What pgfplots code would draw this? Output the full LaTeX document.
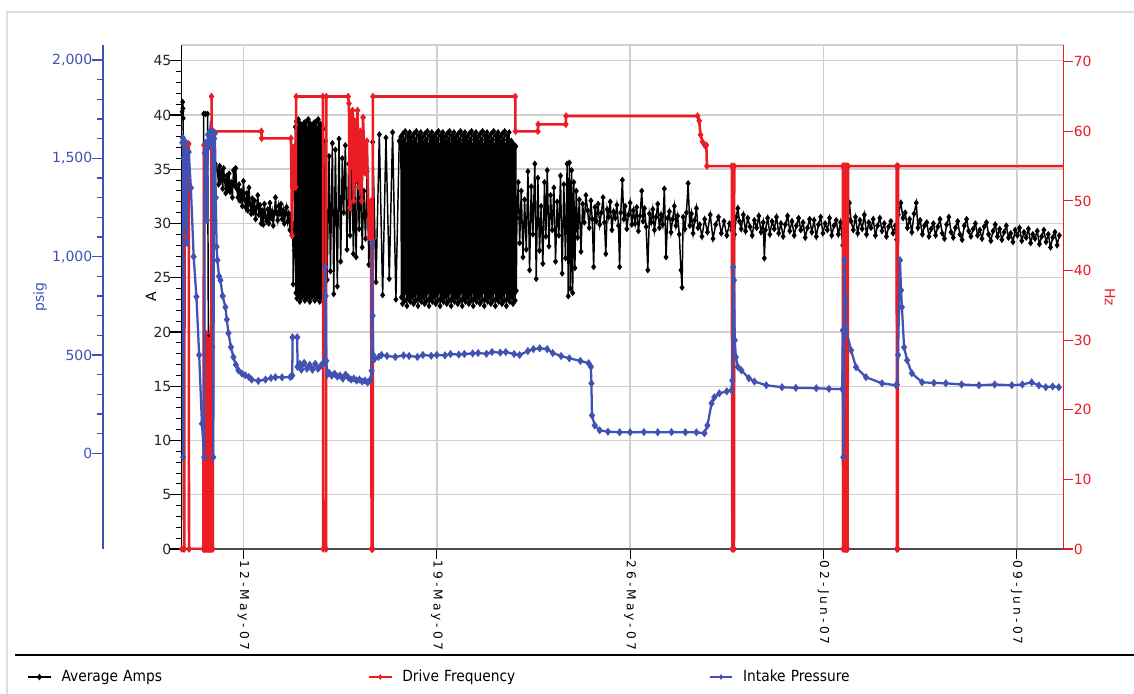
\documentclass[border=0pt]{standalone}
\usepackage{fontspec}
\setmainfont{DejaVu Sans}
\newfontfamily\legfont{DejaVu Sans Condensed}
\newfontfamily\xlabfont[LetterSpace=25]{DejaVu Sans}
\usepackage{pgfplots}
\pgfplotsset{compat=1.18}
\definecolor{cblue}{RGB}{66,82,178}
\definecolor{cred}{RGB}{236,28,36}
\definecolor{cgrid}{RGB}{208,208,208}
\definecolor{cframe}{RGB}{222,222,222}
\begin{document}
\begin{tikzpicture}
\useasboundingbox (0,0) rectangle (850.5pt,519.75pt);
\fill[white] (0,0) rectangle (850.5pt,519.75pt);
\draw[cframe, line width=1.5pt] (5.25pt,-5pt) -- (5.25pt,510.75pt) -- (860pt,510.75pt);
\draw[black, line width=2.2pt] (11.25pt,28.5pt) -- (850.5pt,28.5pt);

% ---------------- main axis: Average Amps ----------------
\begin{axis}[
  at={(136.3pt,108pt)}, anchor=south west, scale only axis,
  width=661.2pt, height=378pt,
  xmin=9.766, xmax=41.685, ymin=0, ymax=46.45,
  axis x line*=bottom, axis y line*=left,
  x axis line style={-, line width=1.6pt, color=black!70},
  y axis line style={-, line width=0.9pt, color=black},
  xtick={12,19,26,33,40},
  xticklabels={12-May-07,19-May-07,26-May-07,02-Jun-07,09-Jun-07},
  xticklabel style={rotate=-90, anchor=west, font=\xlabfont\fontsize{9.2}{10}\selectfont, inner sep=4pt},
  xtick style={black, line width=0.8pt, /pgfplots/major tick length=7.5pt},
  ytick={0,5,...,45}, minor y tick num=4,
  ytick style={black, line width=0.8pt, /pgfplots/major tick length=9pt, /pgfplots/minor tick length=4.5pt},
  tick align=outside,
  yticklabel style={font=\fontsize{10.5}{12}\selectfont, text=black!85},
  /pgf/number format/assume math mode=true,
  xmajorgrids, ymajorgrids,
  grid style={cgrid, line width=1.1pt},
  every axis y label/.style={at={(axis description cs:0,0.5)}, xshift=-23pt, rotate=90, anchor=center, font=\fontsize{10.5}{12}\selectfont},
  ylabel={A},
  legend columns=3,
  legend style={at={(axis description cs:0,0)}, anchor=west, xshift=-116pt, yshift=-96pt,
    draw=none, fill=none, inner sep=0pt, font=\legfont\fontsize{11.5}{12}\selectfont,
    nodes={inner sep=0pt, text width=230pt, align=left},
    /tikz/every odd column/.append style={column sep=7.5pt}},
  legend cell align=left,
]
\draw[cgrid, line width=1.1pt] (rel axis cs:0,1) -- (rel axis cs:1,1);
\addplot[black, line width=1.1pt, mark=diamond*, mark size=1.6pt] coordinates {
(9.78,40.3) (9.80,41.2) (9.81,40.6) (9.82,39.7) (9.83,0)
(10.55,0) (10.56,40.1) (10.62,40.1) (10.70,40.1) (10.73,19.8) (10.75,18.6) (10.77,19.7) (10.80,19.2) (10.98,35.5)
(11.06,34.9) (11.10,33.6) (11.14,35.3) (11.17,33.9) (11.21,34.8) (11.25,33.2) (11.28,35.1) (11.32,34.0) (11.36,32.8) (11.40,34.4)
(11.44,33.1) (11.48,34.6) (11.52,32.9) (11.56,33.8) (11.60,32.4) (11.64,34.9) (11.68,33.5) (11.72,35.1) (11.76,33.2) (11.80,32.4)
(11.84,33.6) (11.88,32.1) (11.92,33.0) (11.96,31.6) (12.00,33.9) (12.04,32.2) (12.08,31.5) (12.12,32.8) (12.16,31.2) (12.20,33.3)
(12.24,31.8) (12.28,30.9) (12.32,32.3) (12.36,31.0) (12.40,32.1) (12.44,30.4) (12.48,31.5) (12.52,32.6) (12.56,30.8) (12.60,31.7)
(12.64,30.0) (12.68,31.2) (12.72,29.9) (12.76,31.8) (12.80,30.6) (12.84,30.2) (12.88,31.3) (12.92,30.0) (12.96,31.9) (13.00,30.5)
(13.04,31.1) (13.08,29.8) (13.12,30.9) (13.16,32.4) (13.20,31.0) (13.24,30.3) (13.28,31.6) (13.32,30.9) (13.36,31.8) (13.40,30.4)
(13.44,31.2) (13.48,30.0) (13.52,30.9) (13.56,31.5) (13.60,30.2) (13.64,30.9) (13.68,29.4) (13.72,30.8) (13.76,29.0) (13.79,30.0)
(13.80,24.4) (13.84,27.5)
(13.880,38.9) (13.898,23.6) (13.916,39.4) (13.934,23.1) (13.952,38.6) (13.970,23.9) (13.988,39.6) (14.006,23.3) (14.024,38.8) (14.042,22.8)
(14.060,39.2) (14.078,23.7) (14.096,38.5) (14.114,23.2) (14.132,39.0) (14.150,24.0) (14.168,38.7) (14.186,23.4) (14.204,39.3) (14.222,22.9)
(14.240,38.9) (14.258,23.6) (14.276,39.4) (14.294,23.1) (14.312,38.6) (14.330,23.9) (14.348,39.6) (14.366,23.3) (14.384,38.8) (14.402,22.8)
(14.420,39.2) (14.438,23.7) (14.456,38.5) (14.474,23.2) (14.492,39.0) (14.510,24.0) (14.528,38.7) (14.546,23.4) (14.564,39.3) (14.582,22.9)
(14.600,38.9) (14.618,23.6) (14.636,39.4) (14.654,23.1) (14.672,38.6) (14.690,23.9) (14.708,39.6) (14.726,23.3) (14.744,38.8) (14.762,22.8)
(14.780,39.2) (14.798,23.7) (14.816,38.5) (14.834,23.2) (14.852,39.0) (14.870,24.0) (14.888,38.7)
(14.93,26.0) (14.97,37.6) (15.03,24.8) (15.10,36.2) (15.15,25.6) (15.22,37.4) (15.27,23.5) (15.33,36.8) (15.40,24.2) (15.46,37.8)
(15.52,26.5) (15.58,36.0) (15.63,31.0) (15.69,37.2) (15.75,27.6) (15.81,35.5) (15.86,28.9) (15.92,36.4) (15.98,27.2) (16.03,33.8)
(16.08,26.9) (16.14,35.1) (16.19,29.5) (16.25,34.2) (16.30,27.8) (16.36,33.0) (16.42,28.6) (16.48,34.8) (16.54,26.2) (16.60,31.0)
(16.64,30.5) (16.65,0) (16.67,0)
(16.68,37.5) (16.80,24.6) (16.92,38.2) (17.04,23.4) (17.16,37.9) (17.28,24.9) (17.40,38.4) (17.52,23.0) (17.64,37.6)
(17.70,38.0) (17.72,23.2) (17.74,37.4) (17.76,22.6) (17.78,38.3) (17.80,23.5) (17.82,37.7) (17.84,22.9) (17.86,38.5) (17.88,23.8)
(17.90,37.2) (17.92,22.4) (17.94,38.1) (17.96,23.1) (17.98,37.8) (18.00,23.6) (18.02,38.4) (18.04,22.8) (18.06,37.5) (18.08,23.3)
(18.10,38.0) (18.12,23.2) (18.14,37.4) (18.16,22.6) (18.18,38.3) (18.20,23.5) (18.22,37.7) (18.24,22.9) (18.26,38.5) (18.28,23.8)
(18.30,37.2) (18.32,22.4) (18.34,38.1) (18.36,23.1) (18.38,37.8) (18.40,23.6) (18.42,38.4) (18.44,22.8) (18.46,37.5) (18.48,23.3)
(18.50,38.0) (18.52,23.2) (18.54,37.4) (18.56,22.6) (18.58,38.3) (18.60,23.5) (18.62,37.7) (18.64,22.9) (18.66,38.5) (18.68,23.8)
(18.70,37.2) (18.72,22.4) (18.74,38.1) (18.76,23.1) (18.78,37.8) (18.80,23.6) (18.82,38.4) (18.84,22.8) (18.86,37.5) (18.88,23.3)
(18.90,38.0) (18.92,23.2) (18.94,37.4) (18.96,22.6) (18.98,38.3) (19.00,23.5) (19.02,37.7) (19.04,22.9) (19.06,38.5) (19.08,23.8)
(19.10,37.2) (19.12,22.4) (19.14,38.1) (19.16,23.1) (19.18,37.8) (19.20,23.6) (19.22,38.4) (19.24,22.8) (19.26,37.5) (19.28,23.3)
(19.30,38.0) (19.32,23.2) (19.34,37.4) (19.36,22.6) (19.38,38.3) (19.40,23.5) (19.42,37.7) (19.44,22.9) (19.46,38.5) (19.48,23.8)
(19.50,37.2) (19.52,22.4) (19.54,38.1) (19.56,23.1) (19.58,37.8) (19.60,23.6) (19.62,38.4) (19.64,22.8) (19.66,37.5) (19.68,23.3)
(19.70,38.0) (19.72,23.2) (19.74,37.4) (19.76,22.6) (19.78,38.3) (19.80,23.5) (19.82,37.7) (19.84,22.9) (19.86,38.5) (19.88,23.8)
(19.90,37.2) (19.92,22.4) (19.94,38.1) (19.96,23.1) (19.98,37.8) (20.00,23.6) (20.02,38.4) (20.04,22.8) (20.06,37.5) (20.08,23.3)
(20.10,38.0) (20.12,23.2) (20.14,37.4) (20.16,22.6) (20.18,38.3) (20.20,23.5) (20.22,37.7) (20.24,22.9) (20.26,38.5) (20.28,23.8)
(20.30,37.2) (20.32,22.4) (20.34,38.1) (20.36,23.1) (20.38,37.8) (20.40,23.6) (20.42,38.4) (20.44,22.8) (20.46,37.5) (20.48,23.3)
(20.50,38.0) (20.52,23.2) (20.54,37.4) (20.56,22.6) (20.58,38.3) (20.60,23.5) (20.62,37.7) (20.64,22.9) (20.66,38.5) (20.68,23.8)
(20.70,37.2) (20.72,22.4) (20.74,38.1) (20.76,23.1) (20.78,37.8) (20.80,23.6) (20.82,38.4) (20.84,22.8) (20.86,37.5) (20.88,23.3)
(20.90,38.0) (20.92,23.2) (20.94,37.4) (20.96,22.6) (20.98,38.3) (21.00,23.5) (21.02,37.7) (21.04,22.9) (21.06,38.5) (21.08,23.8)
(21.10,37.2) (21.12,22.4) (21.14,38.1) (21.16,23.1) (21.18,37.8) (21.20,23.6) (21.22,38.4) (21.24,22.8) (21.26,37.5) (21.28,23.3)
(21.30,38.0) (21.32,23.2) (21.34,37.4) (21.36,22.6) (21.38,38.3) (21.40,23.5) (21.42,37.7) (21.44,22.9) (21.46,38.5) (21.48,23.8)
(21.50,37.2) (21.52,22.4) (21.54,38.1) (21.56,23.1) (21.58,37.8) (21.60,23.6) (21.62,38.4) (21.64,22.8) (21.66,37.5) (21.68,23.3)
(21.70,37.6) (21.72,23.2) (21.74,37.4) (21.76,22.6) (21.78,37.3) (21.80,23.5) (21.82,37.2) (21.84,22.9) (21.86,37.1) (21.88,23.8)
(21.90,30.5) (21.95,33.8) (22.00,28.2) (22.06,33.0) (22.12,26.9) (22.18,32.2) (22.24,27.6) (22.30,34.8) (22.36,25.7) (22.42,33.4)
(22.48,29.0) (22.55,35.5) (22.60,24.9) (22.66,34.2) (22.72,27.5) (22.78,31.6) (22.84,26.3) (22.90,33.8) (22.95,28.8) (23.00,34.9)
(23.06,27.9) (23.12,32.6) (23.18,29.4) (23.24,33.3) (23.30,26.5) (23.36,32.0) (23.42,28.9) (23.48,34.4) (23.54,25.4) (23.60,33.6)
(23.66,26.8) (23.72,35.5) (23.76,23.3) (23.80,35.6) (23.84,24.0) (23.88,34.9) (23.92,23.6) (23.96,33.8) (24.00,25.9) (24.05,33.0)
(24.10,28.7) (24.16,32.2) (24.22,27.4) (24.28,31.8) (24.34,30.1) (24.40,32.6)
(24.46,31.2) (24.52,29.6) (24.58,32.1) (24.63,30.4) (24.68,26.0) (24.73,31.5) (24.78,30.2) (24.84,31.8) (24.90,29.9) (24.96,31.0)
(25.02,32.4) (25.07,30.1) (25.12,27.2) (25.17,31.3) (25.22,30.6) (25.28,32.0) (25.34,29.4) (25.40,31.1) (25.46,30.5) (25.52,31.7)
(25.58,29.8) (25.62,26.0) (25.66,31.0) (25.72,34.0) (25.77,30.4) (25.82,31.6) (25.88,29.5) (25.94,30.8) (26.00,31.9) (26.06,29.9)
(26.12,31.2) (26.18,30.0) (26.24,31.5) (26.30,29.3) (26.36,30.7) (26.42,33.0) (26.47,30.2) (26.52,31.4) (26.58,29.7) (26.64,25.7)
(26.70,30.9) (26.76,30.1) (26.82,31.3) (26.88,29.4) (26.94,30.6) (27.00,31.8) (27.06,29.6) (27.12,30.8) (27.18,29.9) (27.24,33.2)
(27.30,26.9) (27.36,30.5) (27.42,31.1) (27.48,29.2) (27.54,30.4) (27.60,31.6) (27.66,29.8) (27.72,30.7) (27.78,29.0) (27.84,25.7)
(27.88,24.1) (27.92,30.6) (27.98,29.5) (28.04,31.0) (28.10,33.7) (28.16,29.8) (28.22,30.9) (28.28,29.1) (28.34,30.3) (28.40,31.4)
(28.46,29.6)
(28.52,29.9) (28.60,28.8) (28.70,30.4) (28.80,29.2) (28.90,30.8) (29.00,28.6) (29.10,29.9) (29.20,30.6) (29.30,29.1) (29.40,30.2)
(29.50,28.9) (29.60,30.0) (29.68,29.4) (29.70,0) (29.76,0) (29.78,29.0) (29.84,30.6) (29.90,31.4) (29.96,30.2) (30.02,29.5)
(30.10,30.8) (30.18,29.3) (30.26,30.5) (30.34,29.7) (30.42,28.9) (30.50,30.3) (30.58,29.6) (30.66,30.7) (30.74,29.2) (30.82,30.1)
(30.86,26.8) (30.90,29.4) (30.98,30.5) (31.06,29.0) (31.14,30.2) (31.22,29.5) (31.30,30.6) (31.38,29.1) (31.46,30.0) (31.54,28.8)
(31.62,29.9) (31.70,30.7) (31.78,29.3) (31.86,30.2) (31.94,28.9) (32.02,29.8) (32.10,30.5) (32.18,29.4) (32.26,30.1) (32.34,28.7)
(32.42,29.6) (32.50,30.4) (32.58,29.2) (32.66,30.3) (32.74,28.8) (32.82,29.9) (32.90,30.6) (32.98,29.1) (33.06,30.0) (33.14,29.4)
(33.22,30.5) (33.30,28.9) (33.38,29.8) (33.46,30.3) (33.54,29.0) (33.62,30.1) (33.70,28.0) (33.71,0) (33.87,0) (33.89,30.4)
(33.94,31.9) (34.00,30.2) (34.08,29.4) (34.16,30.6) (34.24,29.1) (34.32,30.3) (34.40,29.5) (34.48,30.8) (34.56,29.0) (34.64,30.1)
(34.72,29.6) (34.80,30.4) (34.88,28.9) (34.96,29.8) (35.04,30.5) (35.12,29.3) (35.20,30.0) (35.28,28.8) (35.36,29.7) (35.44,30.2)
(35.52,29.1) (35.60,29.8) (35.65,28.5) (35.66,0) (35.69,0) (35.71,30.8) (35.80,31.9) (35.88,30.5) (35.96,31.0) (36.04,29.6)
(36.12,30.4) (36.20,29.2) (36.28,30.9) (36.36,31.9) (36.42,29.6) (36.50,30.3) (36.58,29.0) (36.66,29.8) (36.74,30.1) (36.82,28.8)
(36.90,29.5) (36.98,30.0) (37.06,28.9) (37.14,29.7) (37.22,30.4) (37.30,29.1) (37.38,28.6) (37.46,29.9) (37.54,30.6) (37.62,29.2)
(37.70,28.7) (37.78,29.6) (37.86,30.2) (37.94,29.0) (38.02,28.5) (38.10,29.8) (38.18,30.4) (38.26,29.3) (38.34,28.8) (38.42,29.5)
(38.50,30.0) (38.58,28.9) (38.66,29.4) (38.74,28.6) (38.82,29.7) (38.90,30.1) (38.98,29.0) (39.06,28.4) (39.14,29.3) (39.22,29.9)
(39.30,28.8) (39.38,29.5) (39.46,28.5) (39.54,29.2) (39.62,29.8) (39.70,28.7) (39.78,29.1) (39.86,28.3) (39.94,29.4) (40.02,28.9)
(40.10,29.6) (40.18,28.4) (40.26,29.2) (40.34,28.7) (40.42,29.5) (40.50,28.2) (40.58,29.0) (40.66,28.6) (40.74,29.3) (40.82,28.1)
(40.90,28.8) (40.98,29.4) (41.06,28.3) (41.14,29.0) (41.22,27.8) (41.30,28.7) (41.38,29.2) (41.46,28.0) (41.54,28.9)
};
\addlegendentry{Average Amps}
\addlegendimage{cred, line width=1pt, mark=diamond*, mark size=1.3pt}
\addlegendentry{Drive Frequency}
\addlegendimage{cblue, line width=1pt, mark=diamond*, mark size=1.3pt}
\addlegendentry{Intake Pressure}
\end{axis}

% ---------------- Hz axis: Drive Frequency ----------------
\begin{axis}[
  at={(136.3pt,108pt)}, anchor=south west, scale only axis,
  width=661.2pt, height=378pt,
  xmin=9.766, xmax=41.685, ymin=0, ymax=72.4,
  axis x line=none, axis y line*=right,
  y axis line style={-, line width=1pt, color=cred},
  ytick={0,10,...,70}, tick align=outside,
  ytick style={cred, line width=0.8pt, /pgfplots/major tick length=7.5pt},
  yticklabel style={font=\fontsize{10.5}{12}\selectfont, text=cred},
  /pgf/number format/assume math mode=true,
  every axis y label/.style={at={(axis description cs:1,0.5)}, xshift=35pt, rotate=-90, anchor=center, font=\fontsize{10.5}{12}\selectfont, text=cred},
  ylabel={Hz},
]
\addplot[cred, line width=1.9pt, mark=diamond*, mark size=1.3pt] coordinates {
(9.77,0) (9.86,0) (9.87,58.2) (10.02,58.2) (10.03,0)
(10.55,0) (10.57,58) (10.59,0) (10.61,28) (10.62,0) (10.64,31) (10.65,0) (10.67,25) (10.68,0) (10.70,30) (10.71,0)
(10.73,22) (10.74,0) (10.76,30) (10.77,0) (10.79,27) (10.80,0) (10.82,31) (10.83,0) (10.845,65) (10.86,0) (10.88,29) (10.89,0)
(10.91,60) (12.65,60) (12.66,59) (13.72,59) (13.76,45) (13.80,57.7) (13.84,52) (13.89,52) (13.91,65) (14.88,65) (14.89,0) (14.99,0)
(15.00,65) (15.79,65) (15.82,64) (15.85,49) (15.88,62.5) (15.92,55) (15.95,63) (15.99,50) (16.03,61.5) (16.08,53) (16.13,63)
(16.18,52) (16.23,60) (16.28,50) (16.33,62) (16.40,54) (16.47,58.6) (16.55,44.7) (16.62,50) (16.64,0) (16.68,0) (16.69,65)
(21.84,65) (21.85,60) (22.66,60) (22.67,61) (23.67,61) (23.68,62.2) (28.44,62.2) (28.50,61.5) (28.55,59.5) (28.62,58.5)
(28.70,58) (28.76,58) (28.78,55) (29.68,55) (29.70,0) (29.76,0) (29.77,55) (33.70,55) (33.71,0) (33.73,55) (33.75,0) (33.77,55)
(33.79,0) (33.81,55) (33.83,0) (33.85,55) (33.87,0) (33.89,55) (35.65,55) (35.66,0) (35.69,0) (35.70,55) (41.69,55)
};
\end{axis}

% ---------------- psig axis: Intake Pressure ----------------
\begin{axis}[
  at={(77pt,108pt)}, anchor=south west, scale only axis,
  width=720.5pt, height=378pt,
  xmin=6.906, xmax=41.685, ymin=-486.6, ymax=2076.3,
  axis x line=none, axis y line*=left,
  y axis line style={-, line width=1.5pt, color=cblue},
  ytick={0,500,...,2000}, minor y tick num=4, tick align=outside,
  ytick style={cblue, line width=1pt, /pgfplots/major tick length=8pt, /pgfplots/minor tick length=4.3pt},
  yticklabel style={font=\fontsize{10.5}{12}\selectfont, text=cblue},
  /pgf/number format/.cd, 1000 sep={,}, assume math mode=true, /pgfplots/.cd,
  every axis y label/.style={at={(axis description cs:0,0.5)}, xshift=-47pt, rotate=90, anchor=center, font=\fontsize{10.5}{12}\selectfont, text=cblue},
  ylabel={psig},
]
\addplot[cblue, line width=1.7pt, mark=diamond*, mark size=1.7pt] coordinates {
(9.79,1580) (9.81,1604) (9.82,-20) (9.84,1500) (9.88,1150) (9.92,1580) (9.96,1070) (9.98,1540) (10.02,1532) (10.10,1350)
(10.20,1000) (10.30,796) (10.40,500) (10.50,150) (10.58,-20) (10.60,1527) (10.64,1580) (10.68,1185) (10.72,1620) (10.76,1560)
(10.80,1640) (10.84,1600) (10.88,1630) (10.91,-20) (10.94,1600) (10.97,1628) (11.00,1300) (11.03,1050) (11.06,982) (11.12,900)
(11.17,880) (11.25,800) (11.35,743) (11.40,680) (11.46,611) (11.55,540) (11.64,489) (11.73,450) (11.82,422) (11.95,405)
(12.07,397) (12.20,388) (12.30,375) (12.54,368) (12.8,375) (13.0,383) (13.16,387) (13.4,386) (13.7,388) (13.77,395)
(13.78,590) (13.95,590) (13.96,440) (14.05,455) (14.1,425) (14.2,460) (14.3,430) (14.4,450) (14.5,425) (14.6,455)
(14.7,430) (14.8,445) (14.9,460) (14.95,470) (14.96,947) (14.98,800) (15.00,470) (15.04,400) (15.1,410) (15.2,395)
(15.3,405) (15.4,390) (15.5,395) (15.6,380) (15.7,400) (15.8,385) (15.9,375) (16.0,380) (16.1,370) (16.2,375)
(16.3,365) (16.4,370) (16.5,360) (16.6,375) (16.64,420) (16.66,1069) (16.68,700) (16.70,500) (16.75,480) (16.9,490)
(17.0,500) (17.2,495) (17.5,490) (17.8,498) (18.0,495) (18.3,490) (18.5,500) (18.8,496) (19.0,500) (19.3,498)
(19.5,505) (19.8,502) (20.0,505) (20.3,508) (20.5,510) (20.8,506) (21.0,515) (21.3,512) (21.5,515) (21.8,505)
(22.0,500) (22.3,520) (22.5,530) (22.73,534) (23.0,530) (23.2,510) (23.5,495) (23.8,483) (24.2,470) (24.5,458)
(24.58,440) (24.60,356) (24.62,193) (24.72,142) (24.9,117) (25.2,110) (25.62,107) (26.0,107) (26.5,108) (27.0,107)
(27.5,108) (28.0,107) (28.4,107) (28.69,102) (28.80,142) (28.95,254) (29.05,285) (29.23,305) (29.5,315) (29.67,320)
(29.70,371) (29.73,947) (29.76,880) (29.79,575) (29.83,489) (29.9,440) (30.03,422) (30.3,382) (30.5,365) (30.93,346)
(31.5,336) (32.0,333) (32.74,331) (33.2,328) (33.68,326) (33.70,626) (33.72,-20) (33.76,982) (33.80,779) (33.82,626)
(34.0,524) (34.18,438) (34.54,387) (35.12,356) (35.63,346) (35.66,350) (35.70,500) (35.77,982) (35.81,829) (35.84,743)
(35.92,539) (36.03,473) (36.2,407) (36.57,361) (37.0,358) (37.43,356) (38.0,350) (38.63,346) (39.2,350) (39.82,346)
(40.2,350) (40.54,361) (40.8,345) (41.05,336) (41.3,340) (41.52,336)
};
\end{axis}
\end{tikzpicture}
\end{document}
